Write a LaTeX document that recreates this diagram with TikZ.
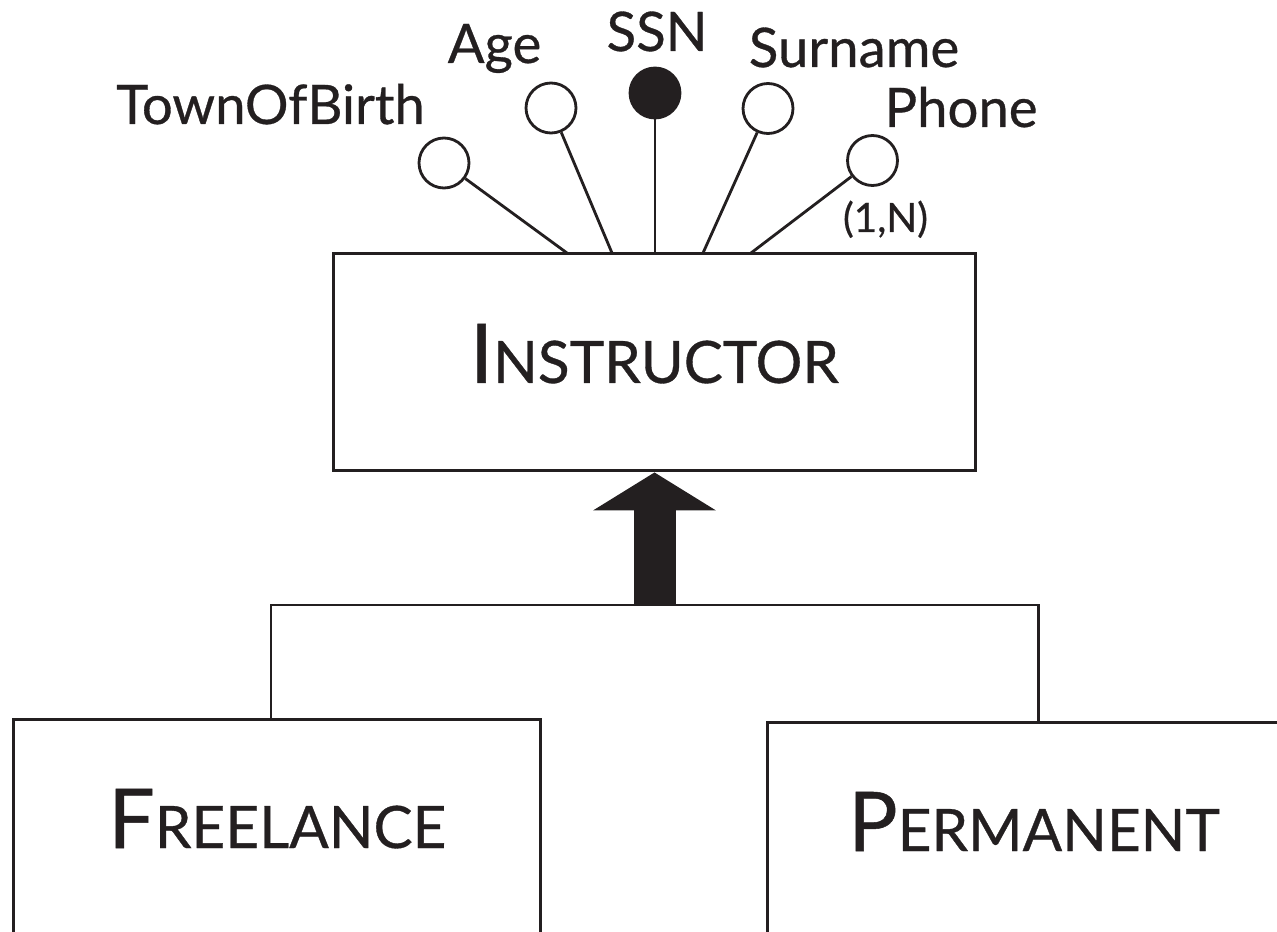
\documentclass[tikz,border=0pt]{standalone}
\usepackage{fontspec}
\setmainfont{Lato}[UprightFeatures={FakeBold=0.6}]
\usetikzlibrary{arrows.meta}
\definecolor{ink}{HTML}{231F20}
\newcommand{\versalete}[2]{{\fontsize{46.9}{50}\selectfont #1}{\fontsize{33.3}{36}\selectfont #2}}

\begin{document}
\begin{tikzpicture}[x=0.02cm, y=-0.02cm, color=ink, line width=1.6pt,
    entity/.style={draw, rectangle, inner sep=0pt, text height=1.18cm, line width=1.7pt},
    attr/.style={draw, circle, minimum size=1cm, inner sep=0pt},
    keyattr/.style={attr, fill=ink},
    attrname/.style={anchor=base, inner sep=0pt, font=\fontsize{31}{33}\selectfont},
    card/.style={anchor=base, inner sep=0pt, font=\fontsize{23}{26}\selectfont},
    isaarrow/.style={line width=0.84cm, -{Triangle[width=2.46cm, length=0.76cm, line width=0pt]}}]
    \useasboundingbox (0,0) rectangle (1277,932);

    % Entidades
    \node[entity, minimum width=12.86cm, minimum height=4.36cm, text depth=0.34cm] (instr) at (654.5,362) {\versalete{I}{NSTRUCTOR}};
    \node[entity, minimum width=10.55cm, minimum height=4.52cm, text depth=0.54cm] (free) at (277.25,832) {\versalete{F}{REELANCE}};
    \node[entity, minimum width=10.68cm, minimum height=4.46cm, text depth=0.48cm] (perm) at (1034,833.5) {\versalete{P}{ERMANENT}};

    % Atributos
    \node[attr] (town) at (444,163) {};
    \node[attr] (age) at (551,108) {};
    \node[keyattr] (ssn) at (655,93) {};
    \node[attr] (surname) at (768,108.5) {};
    \node[attr] (phone) at (872.5,160.5) {};

    \coordinate (ptown) at (567,253);
    \coordinate (page) at (612,253);
    \coordinate (pssn) at (655,253);
    \coordinate (psurname) at (703,253);
    \coordinate (pphone) at (751,253);

    \draw (town) -- (ptown);
    \draw (age) -- (page);
    \draw (ssn) -- (pssn);
    \draw (surname) -- (psurname);
    \draw (phone) -- (pphone);

    \node[attrname] (ltown) at (270.5,124) {TownOfBirth};
    \node[attrname] (lage) at (494.5,63) {Age};
    \node[attrname] (lssn) at (657,51) {SSN};
    \node[attrname] (lsurname) at (854,67) {Surname};
    \node[attrname] (lphone) at (961,127) {Phone};
    \node[card] (cphone) at (885.5,232) {(1,N)};

    % Generalizacao
    \coordinate (isa) at (654.5,605);
    \coordinate (jfree) at (271,605);
    \coordinate (jperm) at (1038,605);
    \draw[line width=1.7pt] (free.north -| jfree) -- (jfree) -- (jperm) -- (perm.north -| jperm);
    \draw[isaarrow] (isa) -- (instr.south);
\end{tikzpicture}
\end{document}
